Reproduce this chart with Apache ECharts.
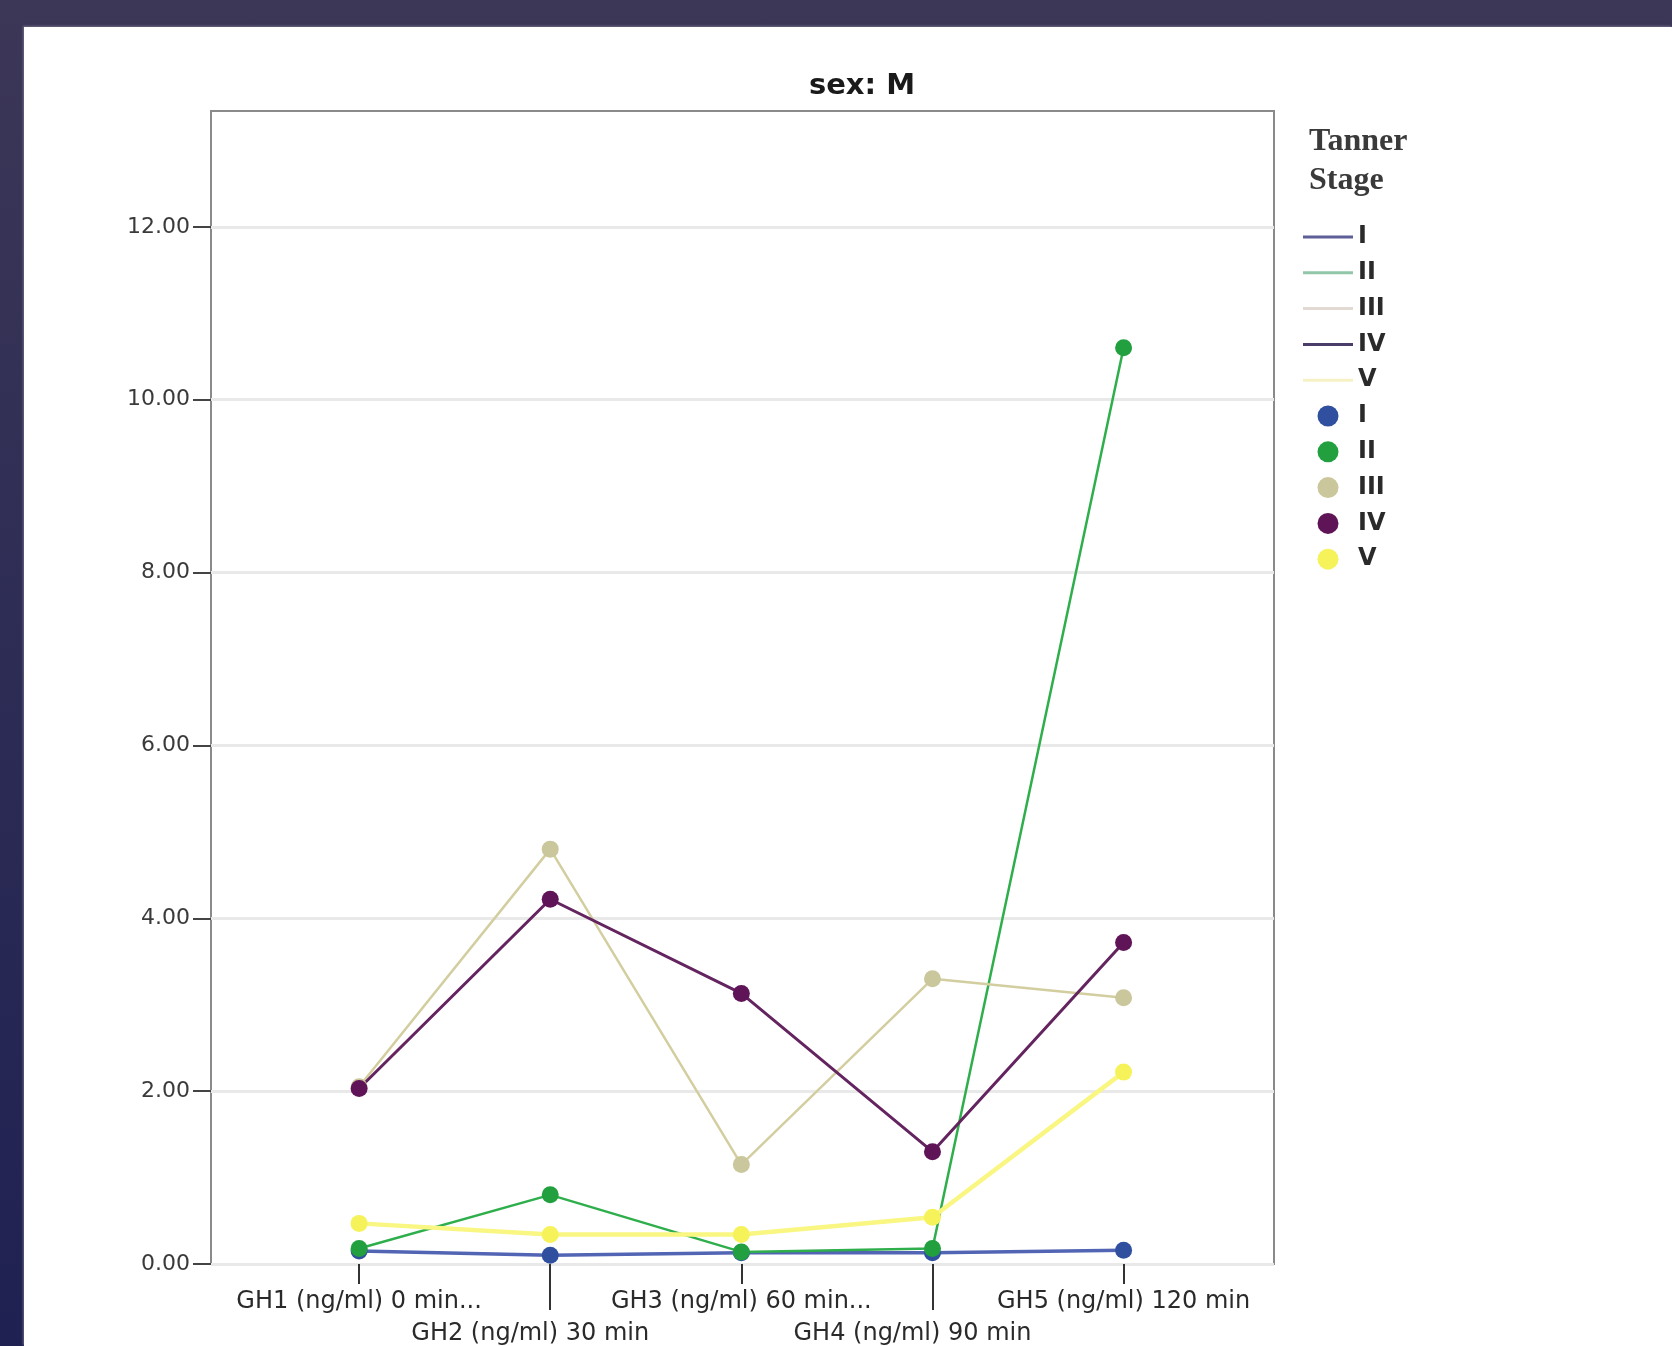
<!DOCTYPE html>
<html>
<head>
<meta charset="utf-8">
<script src="https://cdn.jsdelivr.net/npm/echarts@6/dist/echarts.min.js"></script>
<style>
  html, body { margin: 0; padding: 0; width: 1672px; height: 1346px; overflow: hidden;
    background: linear-gradient(180deg, #3c3757 0%, #2d2c55 50%, #1f2152 100%); }
  #panel { position: absolute; left: 24px; top: 27px; right: 0; bottom: 0; background: #ffffff;
    box-shadow: -1px -1px 2px rgba(120,120,140,0.8); }
  #chart { position: absolute; left: 0; top: 0; width: 1672px; height: 1346px; }
</style>
</head>
<body>
<div id="panel"></div>
<div id="chart"></div>
<script>
// ---- data ----
const categories = ['GH1 (ng/ml) 0 min...', 'GH2 (ng/ml) 30 min', 'GH3 (ng/ml) 60 min...', 'GH4 (ng/ml) 90 min', 'GH5 (ng/ml) 120 min'];
const stages = ['I', 'II', 'III', 'IV', 'V'];
const stageI   = [0.15, 0.10, 0.13, 0.13, 0.16];
const stageII  = [0.18, 0.80, 0.14, 0.18, 10.60];
const stageIII = [2.05, 4.80, 1.15, 3.30, 3.08];
const stageIV  = [2.03, 4.22, 3.13, 1.30, 3.72];
const stageV   = [0.47, 0.34, 0.34, 0.54, 2.22];
const yTicks = [0, 2, 4, 6, 8, 10, 12];

const values = [stageI, stageII, stageIII, stageIV, stageV];
const lineColors   = ['#5264b4', '#2fae4c', '#d3ce9f', '#64245f', '#f9f682'];
const markColors   = ['#30509f', '#22a040', '#cac79c', '#5f1457', '#f6f25a'];
const lineWidths   = [3.5, 2.5, 2.5, 3, 4.5];
const legendLineColors = ['#5e5e98', '#92c6a8', '#e2dad2', '#4a3d6a', '#f6f2c6'];

const series = [];
stages.forEach((s, k) => {
  series.push({
    name: 'L-' + s, type: 'line', xAxisIndex: 0, yAxisIndex: 0, z: 2,
    data: values[k].map((v, i) => [i, v]),
    symbol: 'none', silent: true,
    lineStyle: { color: lineColors[k], width: lineWidths[k] },
    itemStyle: { color: lineColors[k] }
  });
});
stages.forEach((s, k) => {
  series.push({
    name: 'P-' + s, type: 'scatter', xAxisIndex: 0, yAxisIndex: 0, z: 3,
    data: values[k].map((v, i) => [i, v]),
    symbol: 'circle', symbolSize: 17,
    itemStyle: { color: markColors[k], opacity: 1 }
  });
});

const linePath = 'path://M0,0 L50,0 L50,3 L0,3 Z';
const legendData = [];
stages.forEach((s, k) => legendData.push({ name: 'L-' + s, icon: linePath,
  itemStyle: { color: legendLineColors[k], borderWidth: 0 } }));
stages.forEach((s, k) => legendData.push({ name: 'P-' + s, icon: 'circle' }));

const xMin = -0.775, xMax = 4.787;
const labelFont = { fontFamily: 'DejaVu Sans', fontSize: 24, color: '#2a2a2a' };

const chart = echarts.init(document.getElementById('chart'), null, { renderer: 'canvas' });
chart.setOption({
  animation: false,
  backgroundColor: 'transparent',
  title: [
    { text: 'sex: M', left: 857, top: 67, textAlign: 'center',
      textStyle: { fontFamily: 'DejaVu Sans', fontWeight: 'bold', fontSize: 29, color: '#1a1a1a' } },
    { text: 'Tanner\nStage', left: 1304, top: 117,
      textStyle: { fontFamily: 'Liberation Serif', fontWeight: 'bold', fontSize: 32, lineHeight: 39, color: '#3a3a3a' } }
  ],
  legend: {
    orient: 'vertical', left: 1303, top: 225, padding: 0,
    itemWidth: 50, itemHeight: 21, itemGap: 11.8,
    data: legendData,
    formatter: n => n.split('-')[1],
    textStyle: { fontFamily: 'DejaVu Sans', fontSize: 24, lineHeight: 24, fontWeight: 'bold', color: '#2a2a2a' },
    selectedMode: false
  },
  grid: { left: 211, right: 398, top: 111, bottom: 82, show: true,
          borderColor: '#8a8a8a', borderWidth: 2, backgroundColor: 'transparent' },
  xAxis: [
    { type: 'value', min: xMin, max: xMax, interval: 1, position: 'bottom',
      splitLine: { show: false }, axisLine: { show: false, onZero: false },
      axisTick: { show: true, customValues: [0, 2, 4], length: 20, lineStyle: { color: '#333', width: 2 } },
      axisLabel: Object.assign({ customValues: [0, 2, 4], margin: 26,
        formatter: v => categories[Math.round(v)] }, labelFont) },
    { type: 'value', min: xMin, max: xMax, interval: 1, position: 'bottom', offset: 0,
      splitLine: { show: false }, axisLine: { show: false, onZero: false },
      axisTick: { show: true, customValues: [1, 3], length: 46, lineStyle: { color: '#333', width: 2 } },
      axisLabel: Object.assign({ customValues: [1, 3], margin: 58, padding: [0, 40, 0, 0],
        formatter: v => categories[Math.round(v)] }, labelFont) }
  ],
  yAxis: {
    type: 'value', min: 0, max: 13.34, interval: 2, position: 'left',
    axisLine: { show: false, onZero: false },
    axisTick: { show: true, length: 18, customValues: yTicks, lineStyle: { color: '#444', width: 2 } },
    axisLabel: Object.assign({ margin: 21, customValues: yTicks, formatter: v => v.toFixed(2) }, labelFont, { fontSize: 22, color: '#3a3a3a' }),
    splitLine: { show: true, lineStyle: { color: '#e9e9e9', width: 3 } }
  },
  series: series
});
</script>
</body>
</html>
